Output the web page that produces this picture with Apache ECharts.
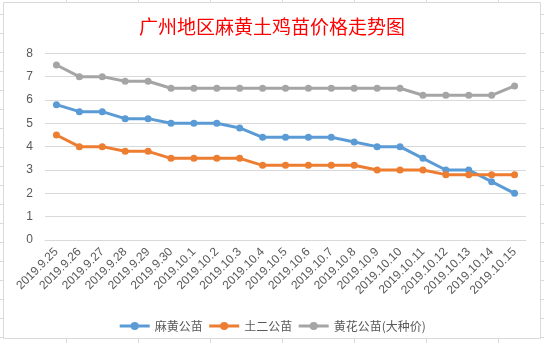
<!DOCTYPE html>
<html>
<head>
<meta charset="utf-8">
<script src="https://cdn.jsdelivr.net/npm/echarts@6/dist/echarts.min.js"></script>
<style>
html,body{margin:0;padding:0;background:#fff;}
#c{width:544px;height:343px;}
</style>
</head>
<body>
<div id="c"></div>
<script>
var categories = ["2019.9.25","2019.9.26","2019.9.27","2019.9.28","2019.9.29","2019.9.30","2019.10.1","2019.10.2","2019.10.3","2019.10.4","2019.10.5","2019.10.6","2019.10.7","2019.10.8","2019.10.9","2019.10.10","2019.10.11","2019.10.12","2019.10.13","2019.10.14","2019.10.15"];
var mahuang = [5.8,5.5,5.5,5.2,5.2,5.0,5.0,5.0,4.8,4.4,4.4,4.4,4.4,4.2,4.0,4.0,3.5,3.0,3.0,2.5,2.0];
var tuer = [4.5,4.0,4.0,3.8,3.8,3.5,3.5,3.5,3.5,3.2,3.2,3.2,3.2,3.2,3.0,3.0,3.0,2.8,2.8,2.8,2.8];
var huanghua = [7.5,7.0,7.0,6.8,6.8,6.5,6.5,6.5,6.5,6.5,6.5,6.5,6.5,6.5,6.5,6.5,6.2,6.2,6.2,6.2,6.6];
var seriesNames = ["麻黄公苗","土二公苗","黄花公苗(大种价)"];
var titleText = "广州地区麻黄土鸡苗价格走势图";

var chart = echarts.init(document.getElementById('c'), null, {renderer:'canvas'});

// spreadsheet cell gridlines visible around the chart frame
var deco = [];
var cols = [66,138,210,282,354,426,498];
cols.forEach(function(x){
  deco.push({type:'line', shape:{x1:x+0.5,y1:0,x2:x+0.5,y2:2}, style:{stroke:'#d9d9d9',lineWidth:1}, silent:true});
  deco.push({type:'line', shape:{x1:x+0.5,y1:339,x2:x+0.5,y2:343}, style:{stroke:'#d9d9d9',lineWidth:1}, silent:true});
});
for (var y = 14; y < 343; y += 19) {
  deco.push({type:'line', shape:{x1:0,y1:y+0.5,x2:3,y2:y+0.5}, style:{stroke:'#d9d9d9',lineWidth:1}, silent:true});
  deco.push({type:'line', shape:{x1:541,y1:y+0.5,x2:544,y2:y+0.5}, style:{stroke:'#d9d9d9',lineWidth:1}, silent:true});
}
deco.push({type:'rect', shape:{x:3.5,y:2.5,width:537,height:336}, style:{fill:'none',stroke:'#d9d9d9',lineWidth:1}, silent:true, z:-1});

var colors = ['#5B9BD5','#ED7D31','#A5A5A5'];
var dataSets = [mahuang, tuer, huanghua];

chart.setOption({
  animation:false,
  color: colors,
  graphic: deco,
  title:{
    text:titleText,
    left:'center',
    top:12,
    textStyle:{color:'#FF0000',fontSize:19,fontWeight:'normal',fontFamily:'"Noto Sans CJK SC"'}
  },
  legend:{
    data:seriesNames,
    top:315,
    left:'center',
    itemWidth:30,
    itemHeight:10,
    itemGap:5,
    lineStyle:{width:3},
    textStyle:{color:'#595959',fontSize:12,fontFamily:'"Noto Sans CJK SC"'}
  },
  grid:{left:45,right:18,top:53.3,bottom:103,containLabel:false},
  xAxis:{
    type:'category',
    data:categories,
    boundaryGap:true,
    axisLine:{lineStyle:{color:'#d9d9d9'}},
    axisTick:{show:false},
    axisLabel:{rotate:45,interval:0,color:'#595959',fontSize:12,margin:10,fontFamily:'"Liberation Sans", Arial, sans-serif'}
  },
  yAxis:{
    type:'value',
    min:0,max:8,interval:1,
    axisLine:{show:false},
    axisTick:{show:false},
    splitLine:{lineStyle:{color:'#d9d9d9'}},
    axisLabel:{color:'#595959',fontSize:12,margin:12,fontFamily:'"Liberation Sans", Arial, sans-serif'}
  },
  series: seriesNames.map(function(n,i){
    return {
      name:n,
      type:'line',
      data:dataSets[i],
      symbol:'circle',
      symbolSize:7,
      lineStyle:{width:3,color:colors[i]},
      itemStyle:{color:colors[i]}
    };
  })
});
</script>
</body>
</html>
